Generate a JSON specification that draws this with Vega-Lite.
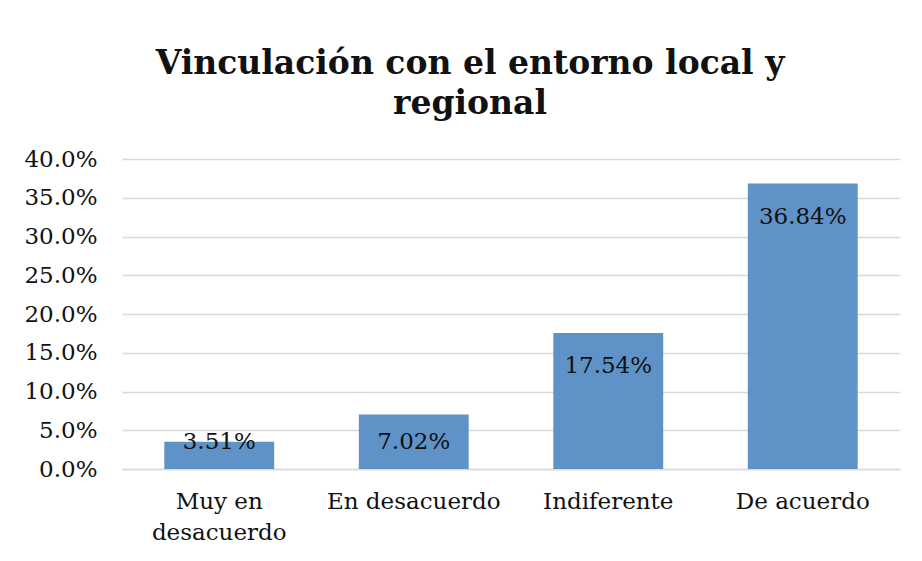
{
  "$schema": "https://vega.github.io/schema/vega-lite/v6.json",
  "width": 778,
  "height": 310,
  "autosize": {"type": "none"},
  "padding": {"left": 122, "top": 159, "right": 22, "bottom": 92},
  "background": "white",
  "title": {
    "text": ["Vinculación con el entorno local y", "regional"],
    "font": "DejaVu Serif",
    "fontWeight": "bold",
    "fontSize": 33,
    "color": "#111111",
    "anchor": "middle",
    "dx": -41,
    "offset": 27,
    "lineHeight": 40
  },
  "data": {
    "values": [
      {"categoria": "Muy en desacuerdo", "porcentaje": 3.51},
      {"categoria": "En desacuerdo", "porcentaje": 7.02},
      {"categoria": "Indiferente", "porcentaje": 17.54},
      {"categoria": "De acuerdo", "porcentaje": 36.84}
    ]
  },
  "encoding": {
    "x": {
      "field": "categoria",
      "type": "nominal",
      "sort": null,
      "scale": {"paddingInner": 0.435, "paddingOuter": 0.2175},
      "axis": {
        "title": null,
        "labelAngle": 0,
        "labelFont": "DejaVu Serif",
        "labelFontSize": 23,
        "labelColor": "#111111",
        "labelPadding": 21,
        "labelLineHeight": 31,
        "labelOverlap": false,
        "labelExpr": "datum.label == 'Muy en desacuerdo' ? ['Muy en', 'desacuerdo'] : datum.label",
        "ticks": false,
        "domain": true,
        "domainColor": "#d9d9d9",
        "domainWidth": 1.5,
        "grid": false
      }
    }
  },
  "layer": [
    {
      "mark": {"type": "bar", "color": "#5f93c8"},
      "encoding": {
        "y": {
          "field": "porcentaje",
          "type": "quantitative",
          "scale": {"domain": [0, 40]},
          "axis": {
            "title": null,
            "values": [0, 5, 10, 15, 20, 25, 30, 35, 40],
            "labelExpr": "format(datum.value, '.1f') + '%'",
            "labelOverlap": false,
            "labelFont": "DejaVu Serif",
            "labelFontSize": 23,
            "labelColor": "#111111",
            "labelPadding": 25,
            "ticks": false,
            "domain": false,
            "grid": true,
            "gridColor": "#d9d9d9",
            "gridWidth": 1.5
          }
        }
      }
    },
    {
      "transform": [
        {"calculate": "max(datum.porcentaje - 4.3, 3.5)", "as": "pos_etiqueta"},
        {"calculate": "format(datum.porcentaje, '.2f') + '%'", "as": "etiqueta"}
      ],
      "mark": {
        "type": "text",
        "font": "DejaVu Serif",
        "fontSize": 23,
        "color": "#111111",
        "baseline": "middle",
        "align": "center"
      },
      "encoding": {
        "y": {
          "field": "pos_etiqueta",
          "type": "quantitative",
          "scale": {"domain": [0, 40]},
          "axis": {
            "title": null,
            "values": [0, 5, 10, 15, 20, 25, 30, 35, 40],
            "labelExpr": "format(datum.value, '.1f') + '%'",
            "labelOverlap": false,
            "labelFont": "DejaVu Serif",
            "labelFontSize": 23,
            "labelColor": "#111111",
            "labelPadding": 25,
            "ticks": false,
            "domain": false,
            "grid": true,
            "gridColor": "#d9d9d9",
            "gridWidth": 1.5
          }
        },
        "text": {"field": "etiqueta", "type": "nominal"}
      }
    }
  ],
  "config": {"view": {"stroke": null}}
}
